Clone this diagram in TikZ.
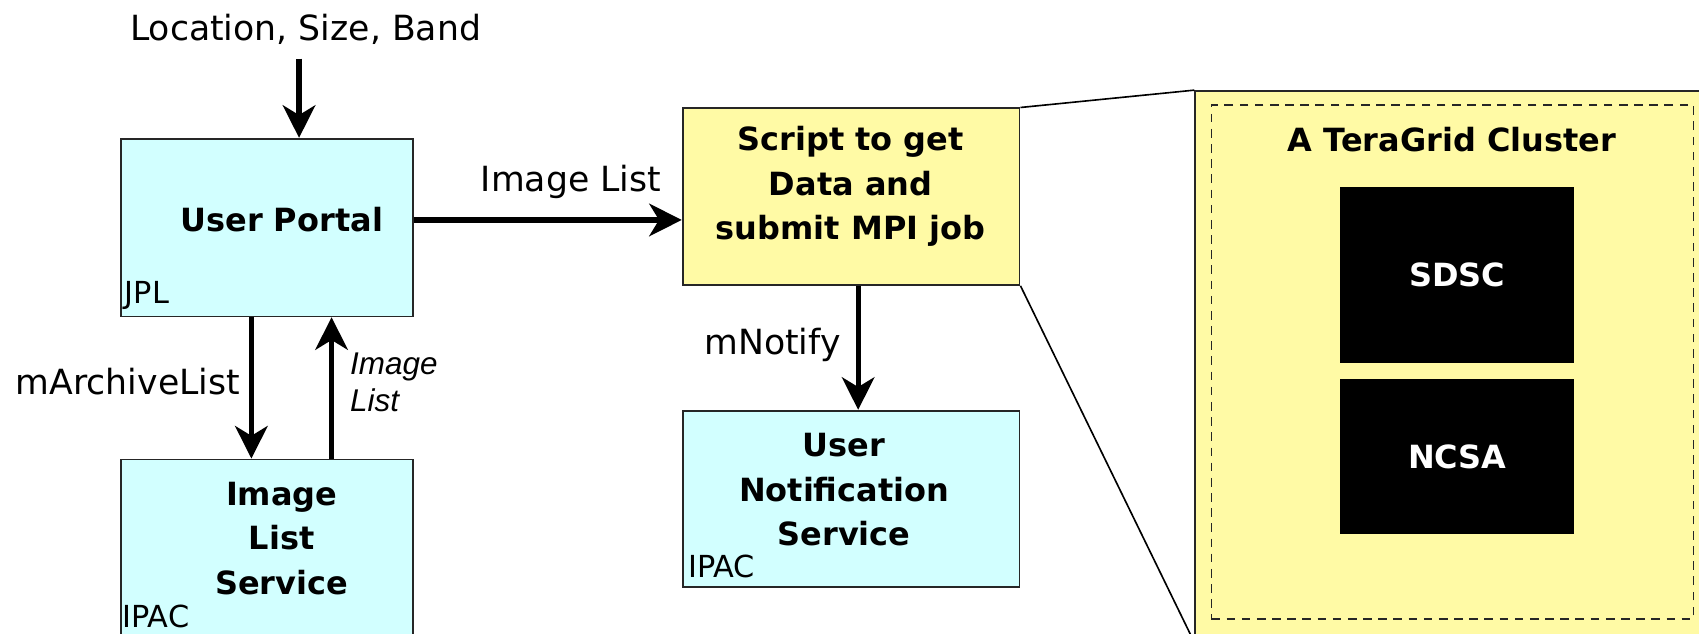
\documentclass[tikz,border=0pt]{standalone}
\usepackage{fontspec}
\setmainfont{DejaVu Sans}
\newfontfamily\arialfont{Liberation Sans}
\usetikzlibrary{arrows.meta}
\definecolor{cyanfill}{RGB}{210,255,255}
\definecolor{yelfill}{RGB}{255,250,165}
\begin{document}
\begin{tikzpicture}[x=1pt,y=-1pt,
  box/.style={draw=black!85, line width=1.6pt, rectangle, inner sep=0pt},
  arr/.style={line width=4.8pt, -{Stealth[length=30pt,width=30pt,inset=9pt]}},
  lbl/.style={font=\fontsize{32}{38}\selectfont, inner sep=0pt},
  boldtxt/.style={font=\fontsize{29.5}{41}\selectfont\bfseries, align=center, inner sep=0pt},
  smalltxt/.style={font=\fontsize{28}{30}\selectfont, inner sep=0pt, anchor=west},
  itl/.style={font=\fontsize{29}{34}\selectfont\arialfont\itshape, align=left, inner sep=0pt, anchor=west}]
\clip (0,0) rectangle (1568,585);
\fill[white] (0,0) rectangle (1568,585);
% boxes
\node[box, fill=cyanfill, minimum width=269pt, minimum height=164pt] (UP) at (246.5,210) {};
\node[box, fill=cyanfill, minimum width=269pt, minimum height=171pt] (ILS) at (246.5,509.5) {};
\node[box, fill=yelfill, minimum width=311pt, minimum height=163pt] (SC) at (785.5,181.5) {};
\node[box, fill=cyanfill, minimum width=311pt, minimum height=163pt] (UNS) at (785.5,460.5) {};
\node[box, fill=yelfill, minimum width=487pt, minimum height=508pt] (BIG) at (1346.5,338) {};
\node[draw=black!85, line width=1.5pt, dash pattern=on 8pt off 6pt, rectangle, inner sep=0pt,
      minimum width=445pt, minimum height=474pt] (CL) at (1340.5,334) {};
\node[fill=black, rectangle, minimum width=216pt, minimum height=162pt, inner sep=0pt] (SDSC) at (1345,254)
  {\textcolor{white}{\fontsize{29.5}{34}\selectfont\bfseries SDSC}};
\node[fill=black, rectangle, minimum width=216pt, minimum height=143pt, inner sep=0pt] (NCSA) at (1345,421.5)
  {\textcolor{white}{\fontsize{29.5}{34}\selectfont\bfseries NCSA}};
% texts in boxes
\node[boldtxt] (tUP) at (260,203) {User Portal};
\node[smalltxt] (jpl) at (115,273) {JPL};
\node[boldtxt] (tSC) at (785,172) {Script to get\\Data and\\submit MPI job};
\node[boldtxt] (tUNS) at (779,452) {User\\Notification\\Service};
\node[smalltxt] (ipac1) at (635,523) {IPAC};
\node[boldtxt] (tILS) at (260,497) {Image\\List\\Service};
\node[smalltxt] (ipac2) at (113,569) {IPAC};
\node[boldtxt] (tCL) at (1340,129) {A TeraGrid Cluster};
% labels
\node[lbl] (loc) at (282,27) {Location, Size, Band};
\node[lbl] (il1) at (527,168) {Image List};
\node[lbl] (marc) at (118,352) {mArchiveList};
\node[itl] (il2) at (323,353) {Image\\List};
\node[lbl] (mnot) at (713,318) {mNotify};
% connectors
\draw[arr, shorten <=13pt] (loc.south -| 276,0) -- (UP.north -| 276,0);
\draw[arr] (UP.east |- 0,203) -- (SC.west |- 0,203);
\draw[arr] (UP.south -| 232,0) -- (ILS.north -| 232,0);
\draw[arr] (ILS.north -| 306,0) -- (UP.south -| 306,0);
\draw[arr] (SC.south -| 792,0) -- (UNS.north -| 792,0);
\draw[line width=1.5pt] (SC.north east) -- (BIG.north west);
\draw[line width=1.5pt] (SC.south east) -- (BIG.south west);
\end{tikzpicture}
\end{document}
